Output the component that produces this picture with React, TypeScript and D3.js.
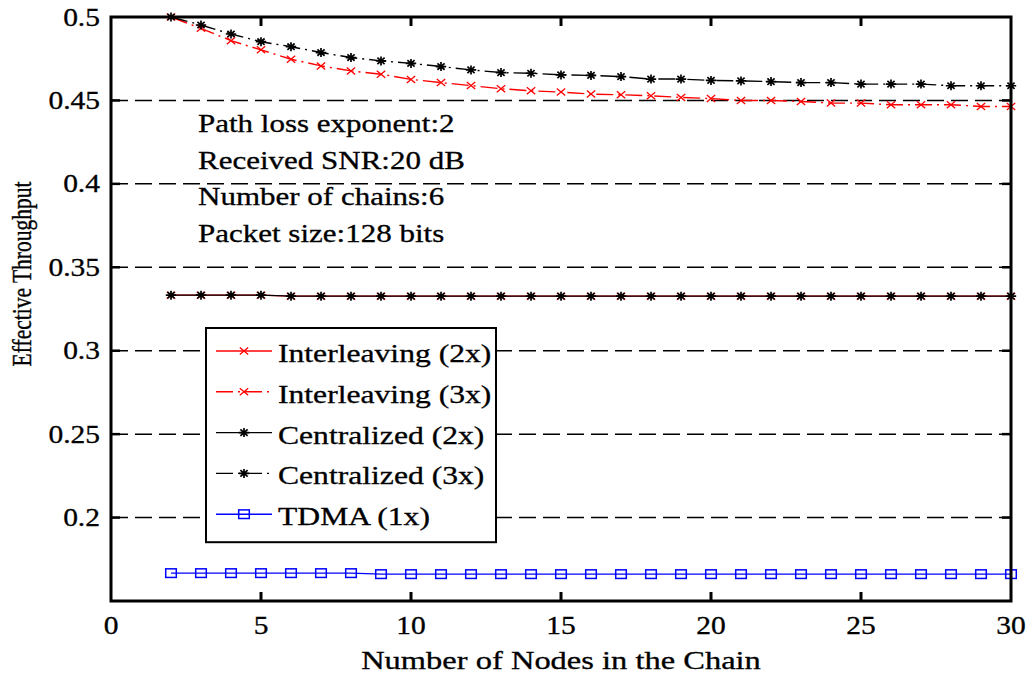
import React from "react";
import * as d3 from "d3";

// Number of nodes in each chain (x axis)
const nodeCounts = [2, 3, 4, 5, 6, 7, 8, 9, 10, 11, 12, 13, 14, 15, 16, 17, 18, 19, 20, 21, 22, 23, 24, 25, 26, 27, 28, 29, 30];

// Effective throughput per scheme
const interleaving2x = [0.3333, 0.3333, 0.3333, 0.3333, 0.3327, 0.3327, 0.3327, 0.3327, 0.3327, 0.3327, 0.3327, 0.3327, 0.3327, 0.3327, 0.3327, 0.3327, 0.3327, 0.3327, 0.3327, 0.3327, 0.3327, 0.3327, 0.3327, 0.3327, 0.3327, 0.3327, 0.3327, 0.3327, 0.3327];
const interleaving3x = [0.5, 0.4932, 0.4858, 0.4803, 0.4747, 0.4707, 0.4677, 0.4657, 0.4626, 0.4607, 0.4589, 0.457, 0.4558, 0.455, 0.4538, 0.4534, 0.4528, 0.4518, 0.4511, 0.45, 0.45, 0.4494, 0.4484, 0.4484, 0.4474, 0.4474, 0.4474, 0.4464, 0.4464];
const centralized2x = [0.3333, 0.3333, 0.3333, 0.3333, 0.3327, 0.3327, 0.3327, 0.3327, 0.3327, 0.3327, 0.3327, 0.3327, 0.3327, 0.3327, 0.3327, 0.3327, 0.3327, 0.3327, 0.3327, 0.3327, 0.3327, 0.3327, 0.3327, 0.3327, 0.3327, 0.3327, 0.3327, 0.3327, 0.3327];
const centralized3x = [0.5, 0.4952, 0.4898, 0.4852, 0.4822, 0.4787, 0.4757, 0.4737, 0.4722, 0.4703, 0.4683, 0.4667, 0.4663, 0.4653, 0.465, 0.4643, 0.4628, 0.4628, 0.462, 0.4617, 0.4613, 0.4607, 0.4607, 0.4598, 0.4598, 0.4598, 0.4588, 0.4588, 0.4588];
const tdma1x = [0.1667, 0.1667, 0.1667, 0.1667, 0.1667, 0.1667, 0.1667, 0.1661, 0.1661, 0.1661, 0.1661, 0.1661, 0.1661, 0.1661, 0.1661, 0.1661, 0.1661, 0.1661, 0.1661, 0.1661, 0.1661, 0.1661, 0.1661, 0.1661, 0.1661, 0.1661, 0.1661, 0.1661, 0.1661];

const xTicks = [0, 5, 10, 15, 20, 25, 30];
const yTicks = [0.2, 0.25, 0.3, 0.35, 0.4, 0.45, 0.5];
const yTickLabels = ["0.2", "0.25", "0.3", "0.35", "0.4", "0.45", "0.5"];

const annotations = [
  "Path loss exponent:2",
  "Received SNR:20 dB",
  "Number of chains:6",
  "Packet size:128 bits",
];

type Marker = "x" | "star" | "square";
interface Series {
  name: string;
  values: number[];
  color: string;
  dash: string | undefined;
  marker: Marker;
}

const DASHDOT = "17,5,2,5";

const series: Series[] = [
  { name: "Interleaving (2x)", values: interleaving2x, color: "#ff0000", dash: undefined, marker: "x" },
  { name: "Interleaving (3x)", values: interleaving3x, color: "#ff0000", dash: DASHDOT, marker: "x" },
  { name: "Centralized (2x)", values: centralized2x, color: "#000000", dash: undefined, marker: "star" },
  { name: "Centralized (3x)", values: centralized3x, color: "#000000", dash: DASHDOT, marker: "star" },
  { name: "TDMA (1x)", values: tdma1x, color: "#0000ff", dash: undefined, marker: "square" },
];

const W = 1031;
const H = 679;
const left = 111;
const right = 1011;
const top = 17;
const bottom = 601;
const FONT = "'Liberation Serif', 'Times New Roman', serif";

const x = d3.scaleLinear().domain([0, 30]).range([left, right]);
const y = d3.scaleLinear().domain([0.15, 0.5]).range([bottom, top]);

function MarkerShape({ kind, cx, cy, color }: { kind: Marker; cx: number; cy: number; color: string }) {
  if (kind === "x") {
    const a = 4.2, b = 3.5;
    return (
      <path
        d={`M${cx - a},${cy - b}L${cx + a},${cy + b}M${cx - a},${cy + b}L${cx + a},${cy - b}`}
        stroke={color}
        strokeWidth={1.3}
        fill="none"
      />
    );
  }
  if (kind === "star") {
    const r = 5.2, rv = 4.5, d = 3.6, dv = 3.2;
    return (
      <path
        d={`M${cx - r},${cy}H${cx + r}M${cx},${cy - rv}V${cy + rv}M${cx - d},${cy - dv}L${cx + d},${cy + dv}M${cx - d},${cy + dv}L${cx + d},${cy - dv}`}
        stroke={color}
        strokeWidth={1.7}
        fill="none"
      />
    );
  }
  return <rect x={cx - 5.3} y={cy - 4.3} width={10.6} height={8.6} stroke={color} strokeWidth={1.5} fill="none" />;
}

function StretchText({ x0, y0, anchor, size, sx, children }: { x0: number; y0: number; anchor: string; size: number; sx: number; children: React.ReactNode }) {
  return (
    <text
      transform={`translate(${x0},${y0}) scale(${sx},1)`}
      textAnchor={anchor}
      fontFamily={FONT}
      fontSize={size}
      fill="#000"
      stroke="#000"
      strokeWidth={0.3}
    >
      {children}
    </text>
  );
}

export default function App() {
  const line = d3
    .line<[number, number]>()
    .x((d) => x(d[0]))
    .y((d) => y(d[1]));

  const legendLeft = 206;
  const legendTop = 328;
  const legendRight = 496;
  const legendRowY = (i: number) => 351 + i * 40.8;
  const legendBottom = legendRowY(4) + 28;

  return (
    <svg width={W} height={H} style={{ position: "absolute", left: 0, top: 0, background: "#fff" }}>
      <rect x={0} y={0} width={W} height={H} fill="#fff" />

      {/* horizontal dashed grid */}
      {yTicks
        .filter((t) => t < 0.5)
        .map((t) => (
          <line key={t} x1={left} x2={right} y1={y(t)} y2={y(t)} stroke="#000" strokeWidth={1.5} strokeDasharray="17,7" />
        ))}

      {/* data series */}
      {series.map((s) => {
        const pts = nodeCounts.map((n, i) => [n, s.values[i]] as [number, number]);
        return (
          <g key={s.name}>
            <path d={line(pts) ?? ""} fill="none" stroke={s.color} strokeWidth={1.4} strokeDasharray={s.dash} />
            {pts.map((p, i) => (
              <MarkerShape key={i} kind={s.marker} cx={x(p[0])} cy={y(p[1])} color={s.color} />
            ))}
          </g>
        );
      })}

      {/* axes box */}
      <rect x={left} y={top} width={right - left} height={bottom - top} fill="none" stroke="#000" strokeWidth={3} />
      {xTicks
        .filter((t) => t > 0 && t < 30)
        .map((t) => (
          <g key={t}>
            <line x1={x(t)} x2={x(t)} y1={bottom} y2={bottom - 9} stroke="#000" strokeWidth={3} />
            <line x1={x(t)} x2={x(t)} y1={top} y2={top + 9} stroke="#000" strokeWidth={3} />
          </g>
        ))}
      {yTicks
        .filter((t) => t < 0.5)
        .map((t) => (
          <g key={t}>
            <line x1={left} x2={left + 9} y1={y(t)} y2={y(t)} stroke="#000" strokeWidth={2.5} />
            <line x1={right} x2={right - 9} y1={y(t)} y2={y(t)} stroke="#000" strokeWidth={2.5} />
          </g>
        ))}

      {/* tick labels */}
      {xTicks.map((t) => (
        <StretchText key={t} x0={x(t)} y0={634} anchor="middle" size={25} sx={1.18}>
          {String(t)}
        </StretchText>
      ))}
      {yTicks.map((t, i) => (
        <StretchText key={t} x0={100} y0={y(t) + 8.5} anchor="end" size={25} sx={1.18}>
          {yTickLabels[i]}
        </StretchText>
      ))}

      {/* axis titles */}
      <StretchText x0={(left + right) / 2} y0={669} anchor="middle" size={25} sx={1.3}>
        Number of Nodes in the Chain
      </StretchText>
      <text
        transform={`translate(31,${(top + bottom) / 2 - 35}) scale(1.3,1) rotate(-90)`}
        textAnchor="middle"
        fontFamily={FONT}
        fontSize={21.5}
        fill="#000"
        stroke="#000"
        strokeWidth={0.3}
      >
        Effective Throughput
      </text>

      {/* parameter notes */}
      {annotations.map((a, i) => (
        <StretchText key={a} x0={198} y0={132 + i * 36.6} anchor="start" size={25} sx={1.24}>
          {a}
        </StretchText>
      ))}

      {/* legend */}
      <rect
        x={legendLeft}
        y={legendTop}
        width={legendRight - legendLeft}
        height={legendBottom - legendTop}
        fill="#fff"
        stroke="#000"
        strokeWidth={2}
      />
      {series.map((s, i) => {
        const ly = legendRowY(i);
        return (
          <g key={s.name}>
            <line x1={216} x2={272} y1={ly} y2={ly} stroke={s.color} strokeWidth={1.4} strokeDasharray={s.dash} />
            <MarkerShape kind={s.marker} cx={244} cy={ly} color={s.color} />
            <StretchText x0={278} y0={ly + 11} anchor="start" size={25} sx={1.265}>
              {s.name}
            </StretchText>
          </g>
        );
      })}
    </svg>
  );
}
